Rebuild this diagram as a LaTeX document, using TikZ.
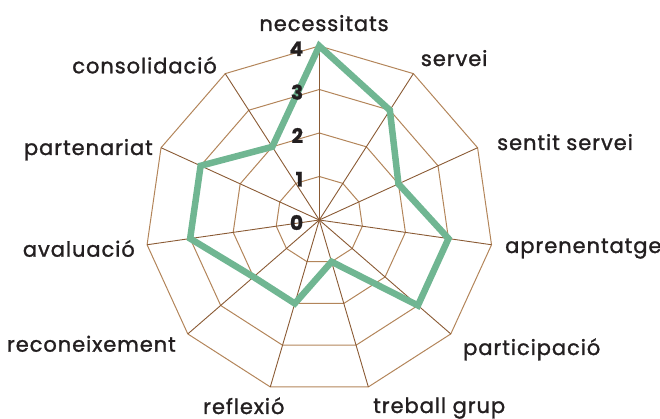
\documentclass[tikz,border=0pt]{standalone}
\usepackage{fontspec}
\setmainfont{Poppins}[LetterSpace=4.5, FakeBold=1.3]
\definecolor{ringbrown}{HTML}{B3855A}
\definecolor{spokebrown}{HTML}{8A5A34}
\definecolor{scoregreen}{HTML}{70B692}
\definecolor{labelgray}{HTML}{231F20}
\begin{document}
\begin{tikzpicture}[x=1pt,y=1pt,
  ring/.style={draw=ringbrown, line width=1pt},
  spoke/.style={draw=spokebrown, line width=0.9pt},
  score/.style={draw=scoregreen, line width=6.5pt, line join=miter},
  axislabel/.style={font=\fontsize{21}{25}\selectfont, text=labelgray, inner sep=0pt},
  ticklabel/.style={font=\fontsize{20}{24}\selectfont\bfseries, text=labelgray, inner sep=0pt}]
\useasboundingbox (0,0) rectangle (660,419);
\begin{scope}[shift={(319.3,199)}]
\coordinate (o) at (0,0);
\foreach \k in {0,...,10} \coordinate (v\k) at ({90-\k*360/11}:174);
% rings
\foreach \r in {1,...,4}
  \draw[ring] ({90}:{\r*43.5}) \foreach \k in {1,...,10} {-- ({90-\k*360/11}:{\r*43.5})} -- cycle;
% spokes
\foreach \k in {0,...,10} \draw[spoke] (o) -- (v\k);
% scores
\foreach \v [count=\k from 0] in {4,3,2,3,3,1,2,2,3,3,2}
  \coordinate (d\k) at ({90-\k*360/11}:{\v*43.5});
\draw[score] (d0) -- (d1) -- (d2) -- (d3) -- (d4) -- (d5) -- (d6) -- (d7) -- (d8) -- (d9) -- (d10) -- cycle;
\foreach \k in {0,...,4} \node[ticklabel, anchor=base east] (t\k) at (-16,{\k*43.5-10}) {\k};
\end{scope}
% axis labels
\node[axislabel, anchor=base] (necessitats) at (324,388) {necessitats};
\node[axislabel, anchor=base west] (servei) at (420.7,353) {servei};
\node[axislabel, anchor=base west] (sentit) at (497,269) {sentit servei};
\node[axislabel, anchor=base west] (aprenentatge) at (505,166) {aprenentatge};
\node[axislabel, anchor=base west] (participacio) at (463,64) {participació};
\node[axislabel, anchor=base west] (treball) at (373,6) {treball grup};
\node[axislabel, anchor=base west] (reflexio) at (203,5) {reflexió};
\node[axislabel, anchor=base east] (reconeixement) at (176,67.3) {reconeixement};
\node[axislabel, anchor=base east] (avaluacio) at (135,162.3) {avaluació};
\node[axislabel, anchor=base east] (partenariat) at (153,264) {partenariat};
\node[axislabel, anchor=base east] (consolidacio) at (217,345.7) {consolidació};
\end{tikzpicture}
\end{document}
